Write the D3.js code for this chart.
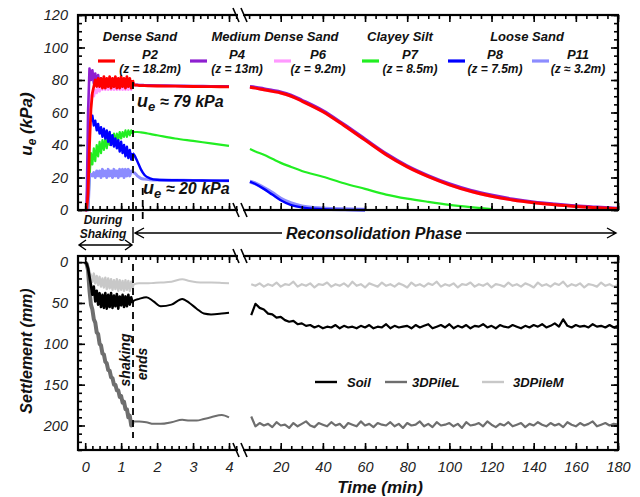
<!DOCTYPE html>
<html>
<head>
<meta charset="utf-8">
<script src="https://cdn.jsdelivr.net/npm/d3@7"></script>
<style>
  body { margin: 0; background: #fff; }
  svg { font-family: "Liberation Sans", Arial, sans-serif; }
</style>
</head>
<body>
<div id="chart"></div>
<script>
// ---- data ----
var probeNames  = ["P2", "P4", "P6", "P7", "P8", "P11"];
var probeDepths = ["(z = 18.2m)", "(z = 13m)", "(z = 9.2m)", "(z = 8.5m)", "(z = 7.5m)", "(z \u2248 3.2m)"];
var probeColors = ["#ff0000", "#8e1fd0", "#ff99ff", "#22ee22", "#0000ff", "#8c8cff"];
var soilLayers  = ["Dense Sand", "Medium Dense Sand", "Clayey Silt", "Loose Sand"];

// shaking phase (min)
var tShake = [0, 0.04, 0.08, 0.12, 0.16, 0.2, 0.24, 0.28, 0.32, 0.36, 0.4, 0.44, 0.48, 0.52, 0.56, 0.6, 0.64,
              0.68, 0.72, 0.76, 0.8, 0.84, 0.88, 0.92, 0.96, 1.0, 1.04, 1.08, 1.12, 1.16, 1.2, 1.24, 1.28, 1.32];
var p2Shake  = [0,0,10,40,62,72,76,80,76,81, 76,81,75,82,75,81,76,82,75,81, 76,82,75,81,75,82,76,81,75,82, 76,81,75,80];
var p4Shake  = [0,0,60,87,80,86,78,84,77,83, 77,81,76,80,76,80,76,80,76,80, 76,80,76,80,76,80,76,80,76,80, 76,80,76,79];
var p6Shake  = [0,0,30,60,70,72,70,74,72,76, 73,77,74,78,74,78,74,78,74,78, 74,78,74,78,74,78,74,78,74,78, 74,78,74,77];
var p7Shake  = [0,0,0,20,35,28,38,30,40,33, 42,35,43,37,44,38,45,40,46,41, 47,42,47,43,48,44,48,45,49,45, 49,46,49,47];
var p8Shake  = [0,0,30,62,55,58,52,55,49,53, 47,51,45,50,44,49,42,48,40,46, 39,44,38,43,36,42,35,40,33,39, 32,37,31,35];
var p11Shake = [0,0,0,20,22,21,23,20,24,21, 24,20,25,21,24,20,25,21,24,20, 25,21,24,20,25,21,25,20,25,21, 25,21,24,23];

// just after shaking, first 4 minutes
var tPostU  = [1.36, 1.45, 1.55, 1.65, 1.8, 2.0, 2.5, 3.0, 3.5, 4.0];
var p2Post  = [77, 76.8, 76.6, 76.5, 76.4, 76.3, 76.2, 76, 75.9, 75.8];
var p4Post  = [77, 77, 76.9, 76.8, 76.7, 76.6, 76.5, 76.3, 76.2, 76.1];
var p6Post  = [77, 76.8, 76.6, 76.5, 76.4, 76.3, 76.2, 76, 75.9, 75.8];
var p7Post  = [48, 48, 47.8, 47.5, 46.8, 46, 44, 42.5, 41, 39.5];
var p8Post  = [34, 30, 25, 21.5, 19.5, 18.6, 18.3, 18.2, 18.1, 18];
var p11Post = [23, 21, 19.5, 19, 18.6, 18.4, 18.3, 18.2, 18.1, 18];

// reconsolidation
var tRecU  = [5.4, 8, 12, 16, 20, 25, 30, 40, 50, 60, 70, 80, 90, 100, 110, 120, 130, 140, 150, 160, 170, 180];
var p2Rec  = [75.5,75,74,73,72,70,67,60.5,52,43,34,26.5,20.5,15.5,11.5,8.5,6.2,4.5,3.2,2.2,1.4,0.7];
var p4Rec  = [76,75.6,74.7,73.7,72.7,70.7,67.7,61.2,52.7,43.7,34.7,27.2,21.2,16.2,12.2,9.2,6.8,5,3.7,2.6,1.8,1.1];
var p6Rec  = [75.5,75,74,73,72,70,67,60.5,52,43,34,26.5,20.5,15.5,11.5,8.5,6.2,4.5,3.2,2.2,1.4,0.7];
var p7Rec  = [37.5,36,34,31.5,29,26.5,24,20.5,16.5,13,9.5,7,5,3.2,1.8,0.6,null,null,null,null,null,null];
var p8Rec  = [17.5,16,13,9.5,6,3,1.6,0.5,0.1,0,null,null,null,null,null,null,null,null,null,null,null,null];
var p11Rec = [17.5,16.3,13.5,10.5,7,4,2.2,0.9,0.4,0.2,null,null,null,null,null,null,null,null,null,null,null,null];

// settlement (mm)
var settleNames  = ["Soil", "3DPileL", "3DPileM"];
var settleColors = ["#000000", "#6e6e6e", "#c8c8c8"];

var soilShake  = [0,2,8,18,28,40,30,48,35,52, 38,55,40,56,38,57,40,55,38,56, 41,54,39,57,42,53,40,55,42,54, 40,52,43,50];
var pileLShake = [0,2,10,35,52,58,70,74,86,88, 100,102,112,113,122,124,132,133,141,142, 150,150,157,157,165,164,172,171,180,180, 190,188,200,196];
var pileMShake = [0,2,6,12,16,24,14,26,17,28, 18,30,20,31,19,33,20,32,21,34, 22,33,21,35,22,34,23,35,22,34, 23,35,24,32];

var tPostS    = [1.36, 1.5, 1.7, 1.9, 2.1, 2.4, 2.7, 2.9, 3.1, 3.3, 3.5, 3.8, 4.0];
var soilPost  = [47, 45, 43, 48, 54, 52, 45, 50, 57, 63, 64, 63, 62];
var pileLPost = [195, 195, 196, 198, 198, 196, 193, 194, 194, 192, 190, 187, 190];
var pileMPost = [27, 26, 26, 25.5, 25, 24, 21, 23, 24.5, 25, 25, 25.5, 26];

var tRecS = [6,8,10,12,14,16,18,20,22,24,26,
             28,30,32,34,36,38,40,42,44,46,48,
             50,52,54,56,58,60,62,64,66,68,70,
             72,74,76,78,80,82,84,86,88,90,92,
             94,96,98,100,102,104,106,108,110,112,114,
             116,118,120,122,124,126,128,130,132,134,136,
             138,140,142,144,146,148,150,152,154,156,158,
             160,162,164,166,168,170,172,174,176,178,180];
var soilRec = [65,51,56,58,63,64,68,67,71,73,72,
               76,75,78,77,80,78,81,79,80,77,81,
               78,80,79,81,78,80,77,81,79,80,76,
               81,78,80,79,78,81,77,80,78,76,81,
               79,77,80,76,81,78,80,77,81,78,79,
               76,80,78,81,77,79,80,77,79,81,78,
               80,77,79,76,80,78,75,79,70,78,80,
               77,79,78,80,76,79,78,80,77,80,78];
var pileLRec = [189,201,197,200,198,202,196,200,199,203,197,
                201,198,195,200,202,197,199,201,196,200,198,
                203,197,199,201,195,200,198,202,197,199,200,
                196,201,198,203,197,200,199,195,201,198,202,
                196,200,199,197,201,198,203,196,200,199,197,
                201,195,199,202,198,200,196,201,199,197,202,
                198,200,196,199,201,197,200,198,202,196,199,
                201,197,200,198,195,201,199,197,200,198,199];
var pileMRec = [27,29,26,30,27,29,25,30,27,28,24,
                30,27,29,26,31,27,28,25,30,27,29,
                26,30,24,29,27,31,26,28,30,25,29,
                27,30,26,28,31,25,29,27,30,26,28,
                24,30,27,29,26,31,27,28,25,30,27,
                29,26,31,27,28,30,25,29,27,30,26,
                28,31,25,29,27,30,26,28,24,30,27,
                29,26,31,27,28,30,25,29,27,30,28];

var uTicks  = [0, 20, 40, 60, 80, 100, 120];
var sTicks  = [0, 50, 100, 150, 200];
var tTicksL = [0, 1, 2, 3, 4];
var tTicksR = [20, 40, 60, 80, 100, 120, 140, 160, 180];

// ---- layout ----
var font = "'Liberation Sans', Arial, sans-serif";
var svg = d3.select("#chart").append("svg")
    .attr("width", 640)
    .attr("height", 497);

var xL = d3.scaleLinear().domain([-0.2, 4.25]).range([78, 238]),
    xR = d3.scaleLinear().domain([4, 180]).range([247, 618]),
    yU = d3.scaleLinear().domain([0, 120]).range([210, 15]),
    yS = d3.scaleLinear().domain([-7.5, 230]).range([256, 450]);

function zip(ts, vs) { return ts.map(function(t, i) { return [t, vs[i]]; }); }

function lineFor(x, y, curve) {
  return d3.line()
      .defined(function(d) { return d[1] != null; })
      .curve(curve || d3.curveLinear)
      .x(function(d) { return x(d[0]); })
      .y(function(d) { return y(d[1]); });
}

// shaking part (noisy, linear), post-shaking part (smooth), reconsolidation part
function drawSeries(y, shakeT, shake, postT, post, recT, rec, color, wShake, w, wRec) {
  var g = svg.append("g").attr("fill", "none").attr("stroke", color)
      .attr("stroke-linejoin", "round");
  var s = zip(shakeT, shake);
  g.append("path").attr("stroke-width", wShake).attr("d", lineFor(xL, y)(s));
  g.append("path").attr("stroke-width", w)
      .attr("d", lineFor(xL, y, d3.curveMonotoneX)([s[s.length - 1]].concat(zip(postT, post))));
  g.append("path").attr("stroke-width", wRec)
      .attr("d", lineFor(xR, y, rec.length > 30 ? d3.curveLinear : d3.curveMonotoneX)(zip(recT, rec)));
}

// top panel curves (drawing order: P7, P11, P8, P6, P4, P2)
drawSeries(yU, tShake, p7Shake, tPostU, p7Post, tRecU, p7Rec, probeColors[3], 2.2, 2.2, 2.2);
drawSeries(yU, tShake, p11Shake, tPostU, p11Post, tRecU, p11Rec, probeColors[5], 3, 3, 4);
drawSeries(yU, tShake, p8Shake, tPostU, p8Post, tRecU, p8Rec, probeColors[4], 2.4, 2.4, 2.4);
drawSeries(yU, tShake, p6Shake, tPostU, p6Post, tRecU, p6Rec, probeColors[2], 2.6, 2.6, 3);
drawSeries(yU, tShake, p4Shake, tPostU, p4Post, tRecU, p4Rec, probeColors[1], 2.6, 2.6, 3);
drawSeries(yU, tShake, p2Shake, tPostU, p2Post, tRecU, p2Rec, probeColors[0], 2.8, 2.8, 3);

// bottom panel curves
drawSeries(yS, tShake, pileMShake, tPostS, pileMPost, tRecS, pileMRec, settleColors[2], 2.4, 2, 2.2);
drawSeries(yS, tShake, pileLShake, tPostS, pileLPost, tRecS, pileLRec, settleColors[1], 4, 2, 2.2);
drawSeries(yS, tShake, soilShake, tPostS, soilPost, tRecS, soilRec, settleColors[0], 2.6, 2, 2.2);

// ---- axes & frames ----
function put(axis, tx, ty, labels) {
  var g = svg.append("g").attr("transform", "translate(" + tx + "," + ty + ")").call(axis);
  g.select(".domain").remove();
  g.selectAll("line").attr("stroke", "#000").attr("stroke-width", 1.6);
  if (!labels) g.selectAll("text").remove();
  g.selectAll("text")
      .attr("font-family", font)
      .attr("font-style", "italic")
      .attr("font-size", 14.5)
      .attr("fill", "#222");
}

function panel(y, yMaj, yMin, showX) {
  var top = d3.min(y.range()), bot = d3.max(y.range());
  var fmt = d3.format("d");
  put(d3.axisLeft(y).tickValues(yMaj).tickFormat(fmt).tickSize(-7).tickPadding(10), 78, 0, true);
  put(d3.axisLeft(y).tickValues(yMin).tickSize(-4), 78, 0, false);
  put(d3.axisRight(y).tickValues(yMaj).tickSize(-7), 618, 0, false);
  put(d3.axisRight(y).tickValues(yMin).tickSize(-4), 618, 0, false);

  var minL = d3.range(0, 4.21, 0.2), minR = d3.range(5, 181, 5);
  [[xL, tTicksL, minL], [xR, tTicksR, minR]].forEach(function(a) {
    put(d3.axisBottom(a[0]).tickValues(a[1]).tickFormat(fmt).tickSize(-7).tickPadding(12), 0, bot, showX);
    put(d3.axisBottom(a[0]).tickValues(a[2]).tickSize(-4), 0, bot, false);
    put(d3.axisTop(a[0]).tickValues(a[1]).tickSize(-7), 0, top, false);
    put(d3.axisTop(a[0]).tickValues(a[2]).tickSize(-4), 0, top, false);
  });

  svg.append("rect")
      .attr("x", 78).attr("y", top)
      .attr("width", 540).attr("height", bot - top)
      .attr("fill", "none").attr("stroke", "#000").attr("stroke-width", 2.2);

  // axis break marks
  [top, bot].forEach(function(yy) {
    svg.append("rect").attr("x", 238).attr("y", yy - 2).attr("width", 5).attr("height", 4).attr("fill", "#fff");
    [236, 244].forEach(function(xx) {
      svg.append("line")
          .attr("x1", xx - 3).attr("y1", yy - 7).attr("x2", xx + 3).attr("y2", yy + 7)
          .attr("stroke", "#000").attr("stroke-width", 1.6);
    });
  });
}

panel(yU, uTicks, d3.range(0, 121, 5), false);
panel(yS, sTicks, d3.range(0, 231, 10), true);

// ---- text, legends, annotations ----
function txt(x, y, s, size, anchor, weight) {
  return svg.append("text")
      .attr("x", x).attr("y", y)
      .attr("font-family", font)
      .attr("font-style", "italic")
      .attr("font-weight", weight || "bold")
      .attr("font-size", size)
      .attr("text-anchor", anchor || "middle")
      .attr("fill", "#111")
      .text(s);
}

// soil layer headings
[140, 275, 400, 527].forEach(function(x, i) { txt(x, 41, soilLayers[i], 13); });

// probe legend
var swX = [98, 190, 274, 362, 448, 532], labX = [150, 237, 318, 410, 495, 578];
probeNames.forEach(function(n, i) {
  svg.append("line")
      .attr("x1", swX[i]).attr("x2", swX[i] + 17)
      .attr("y1", 61).attr("y2", 61)
      .attr("stroke", probeColors[i]).attr("stroke-width", 3.2);
  txt(labX[i], 59, n, 13);
  txt(labX[i], 73, probeDepths[i], 12);
});

// u_e annotations
function ueLabel(x, y, rest) {
  var t = txt(x, y, "", 16, "start");
  t.append("tspan").attr("font-size", 18).text("u");
  t.append("tspan").attr("dy", 4).attr("font-size", 13).text("e");
  t.append("tspan").attr("dy", -4).text(rest);
}
ueLabel(137, 107, "  \u2248 79 kPa");
ueLabel(143, 194, " \u2248 20 kPa");

// shaking-ends dashed lines
svg.append("line").attr("x1", xL(1.33)).attr("x2", xL(1.33)).attr("y1", 82).attr("y2", 221)
    .attr("stroke", "#000").attr("stroke-width", 1.8).attr("stroke-dasharray", "7,5");
svg.append("line").attr("x1", xL(1.6)).attr("x2", xL(1.6)).attr("y1", 188).attr("y2", 221)
    .attr("stroke", "#000").attr("stroke-width", 1.8).attr("stroke-dasharray", "7,5");
svg.append("line").attr("x1", xL(1.33)).attr("x2", xL(1.33)).attr("y1", 264).attr("y2", 438)
    .attr("stroke", "#000").attr("stroke-width", 1.8).attr("stroke-dasharray", "7,5");

txt(0, 0, "shaking", 14, "middle").attr("transform", "translate(130,360) rotate(-90)");
txt(0, 0, "ends", 14, "middle").attr("transform", "translate(147,364) rotate(-90)");

// phase arrows
txt(103, 224, "During", 12);
txt(103, 238, "Shaking", 12);
var ink = svg.append("g").attr("fill", "none").attr("stroke", "#000").attr("stroke-width", 1.4);
ink.append("path").attr("d", "M79,245 H132 M86,240 L79,245 L86,250 M125,240 L132,245 L125,250");
ink.append("path").attr("d", "M133,227 V243");
ink.append("path").attr("d", "M135,233 H282 M144,228 L135,233 L144,238 M466,233 H616 M607,228 L616,233 L607,238");
txt(374, 239, "Reconsolidation Phase", 16);

// settlement legend
var lgX = [315, 385, 482], lgT = [347, 412, 513];
settleNames.forEach(function(n, i) {
  svg.append("line")
      .attr("x1", lgX[i]).attr("x2", lgX[i] + 22)
      .attr("y1", 382).attr("y2", 382)
      .attr("stroke", settleColors[i]).attr("stroke-width", 2.4);
  txt(lgT[i], 387, n, 13, "start");
});

// axis titles
var yt = txt(0, 0, "", 17).attr("transform", "translate(32,124) rotate(-90)");
yt.append("tspan").text("u");
yt.append("tspan").attr("dy", 4).attr("font-size", 12).text("e");
yt.append("tspan").attr("dy", -4).text(" (kPa)");
txt(0, 0, "Settlement (mm)", 16).attr("transform", "translate(32,351) rotate(-90)");
txt(380, 493, "Time (min)", 17);
</script>
</body>
</html>
